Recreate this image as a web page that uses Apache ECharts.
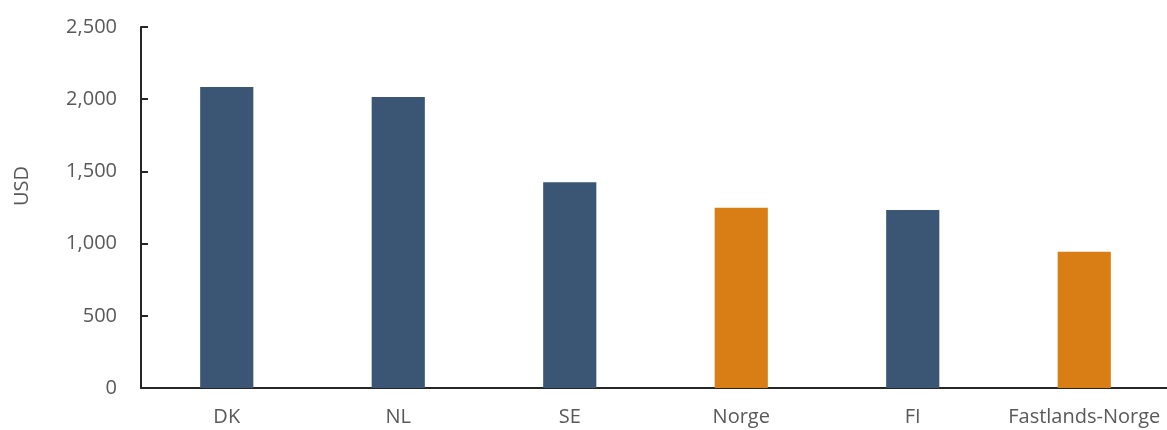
<!DOCTYPE html>
<html>
<head>
<meta charset="utf-8">
<script src="https://cdn.jsdelivr.net/npm/echarts@6/dist/echarts.min.js"></script>
<style>
  html, body { margin: 0; padding: 0; background: #ffffff; }
  #chart { width: 1167px; height: 430px; }
</style>
</head>
<body>
<div id="chart"></div>
<script>
// Categories and values (USD)
const categories = ['DK', 'NL', 'SE', 'Norge', 'FI', 'Fastlands-Norge'];
const values = [2085, 2015, 1425, 1248, 1232, 943];
// Norwegian entries are highlighted
const highlighted = ['Norge', 'Fastlands-Norge'];
const yTicks = { min: 0, max: 2500, interval: 500 };
const unitLabel = 'USD';

const BLUE = '#3a5674';
const ORANGE = '#d97e15';
const TEXT = '#595959';
const FONT = '"Open Sans", "Liberation Sans", sans-serif';
const FONT_SIZE = 20;

const chart = echarts.init(document.getElementById('chart'));
chart.setOption({
  animation: false,
  backgroundColor: '#ffffff',
  grid: { left: 141, top: 27, width: 1029, height: 361, outerBoundsMode: 'none', containLabel: false },
  xAxis: {
    type: 'category',
    data: categories,
    axisLine: { show: true, lineStyle: { color: '#262626', width: 2 } },
    axisTick: { show: false },
    axisLabel: { color: TEXT, fontSize: FONT_SIZE, fontFamily: FONT, margin: 19, interval: 0 }
  },
  yAxis: {
    type: 'value',
    min: yTicks.min,
    max: yTicks.max,
    interval: yTicks.interval,
    axisLine: { show: true, lineStyle: { color: '#262626', width: 2 } },
    axisTick: { show: true, inside: true, length: 7, lineStyle: { color: '#262626', width: 2 } },
    splitLine: { show: false },
    axisLabel: {
      color: TEXT, fontSize: FONT_SIZE, fontFamily: FONT, margin: 24,
      formatter: v => v.toLocaleString('en-US')
    }
  },
  // Vertical unit title on the left
  graphic: [{
    type: 'text',
    x: 22,
    y: 186,
    rotation: Math.PI / 2,
    style: {
      text: unitLabel,
      fill: TEXT,
      font: FONT_SIZE + 'px ' + FONT,
      align: 'center',
      verticalAlign: 'middle'
    }
  }],
  series: [{
    type: 'bar',
    barWidth: '31%',
    data: values.map((v, i) => ({
      value: v,
      itemStyle: { color: highlighted.includes(categories[i]) ? ORANGE : BLUE }
    }))
  }]
});
</script>
</body>
</html>
